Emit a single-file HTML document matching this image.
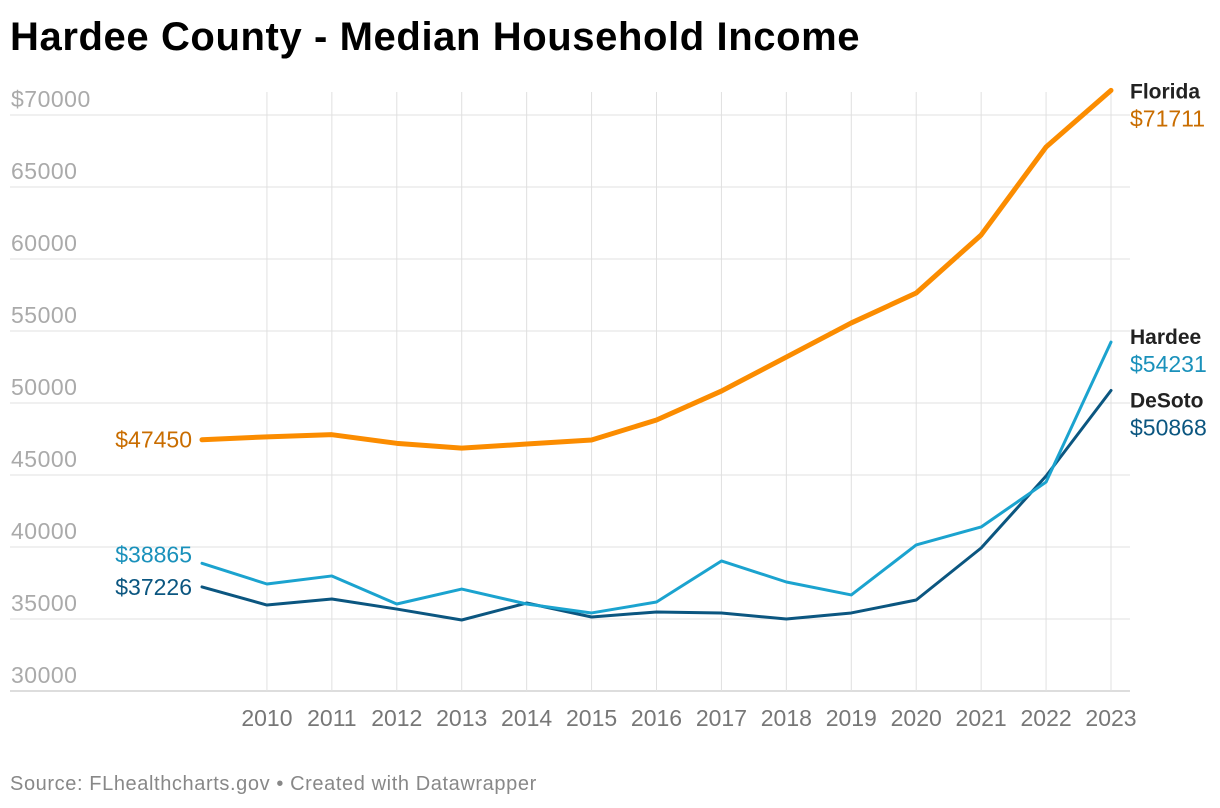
<!DOCTYPE html>
<html><head><meta charset="utf-8">
<style>
body{margin:0;background:#fff;width:1220px;height:808px;overflow:hidden;font-family:"Liberation Sans",sans-serif;}
h1{position:absolute;left:10px;top:15px;margin:0;font-size:40px;font-weight:bold;color:#000;letter-spacing:0.6px;}
.src{position:absolute;left:10px;top:773px;font-size:20px;color:#888;letter-spacing:0.6px;}
svg{position:absolute;left:0;top:0;}
</style></head><body>
<h1>Hardee County - Median Household Income</h1>
<svg id="c" width="1220" height="808"></svg>
<div class="src">Source: FLhealthcharts.gov • Created with Datawrapper</div>
<script>
const years=[2009,2010,2011,2012,2013,2014,2015,2016,2017,2018,2019,2020,2021,2022,2023];
const yTicks=[30000,35000,40000,45000,50000,55000,60000,65000,70000];
const florida=[47450,47650,47800,47200,46870,47150,47430,48820,50830,53190,55560,57640,61670,67780,71711];
const hardee=[38865,37430,37990,36040,37080,36040,35420,36180,39030,37570,36670,40140,41390,44510,54231];
const desoto=[37226,35970,36390,35690,34930,36110,35140,35490,35420,35000,35420,36320,39930,44930,50868];
const NS="http://www.w3.org/2000/svg";
const svg=document.getElementById('c');
const X=y=>202+(y-2009)*(1111-202)/14;
const Y=v=>691-(v-30000)*72/5000;
function mk(t,a,txt){const e=document.createElementNS(NS,t);for(const k in a)e.setAttribute(k,a[k]);if(txt!==undefined)e.textContent=txt;svg.appendChild(e);return e;}
yTicks.forEach(v=>{
  const l=mk('line',{x1:10,x2:1130,y1:Y(v),y2:Y(v),stroke:v===30000?'#bbb':'#e0e0e0','stroke-width':1});
  
  
  const t=mk('text',{x:11,y:Y(v)-8,'font-size':23,fill:'#aaa','letter-spacing':0.5},(v===70000?'$':'')+v);
  
  
});
years.forEach(y=>{
  if(y<2010)return;
  const l=mk('line',{x1:X(y),x2:X(y),y1:92,y2:691,stroke:'#e0e0e0','stroke-width':1});
  
  
  const t=mk('text',{x:X(y),y:726,'font-size':23,fill:'#777','text-anchor':'middle'},y);
  
  
});
function series(data,color,w,name,labColor,title,endY,startDy){
  const p=mk('polyline',{points:data.map((v,i)=>X(years[i])+','+Y(v)).join(' '),fill:'none',stroke:color,'stroke-width':w,'stroke-linejoin':'round','stroke-linecap':'round'});
  
  
  const last=data[data.length-1];
  const t1=mk('text',{x:1130,y:endY,'font-size':21,'font-weight':'bold',fill:'#222'},title);
  
  
  const t2=mk('text',{x:1130,y:endY+28,'font-size':23,fill:labColor},'$'+last);
  
  
  const t3=mk('text',{x:192,y:Y(data[0])+startDy,'font-size':23,fill:labColor,'text-anchor':'end'},'$'+data[0]);
  
  
}
series(desoto,'#0b5680',3,'desoto','#0b5680','DeSoto',Y(desoto[14])+17,8);
series(hardee,'#1ba3cf',3,'hardee','#1a91bb','Hardee',Y(hardee[14])+2,-1);
series(florida,'#fb8c00',5,'florida','#c96d00','Florida',Y(florida[14])+8,8);
</script>
</body></html>
